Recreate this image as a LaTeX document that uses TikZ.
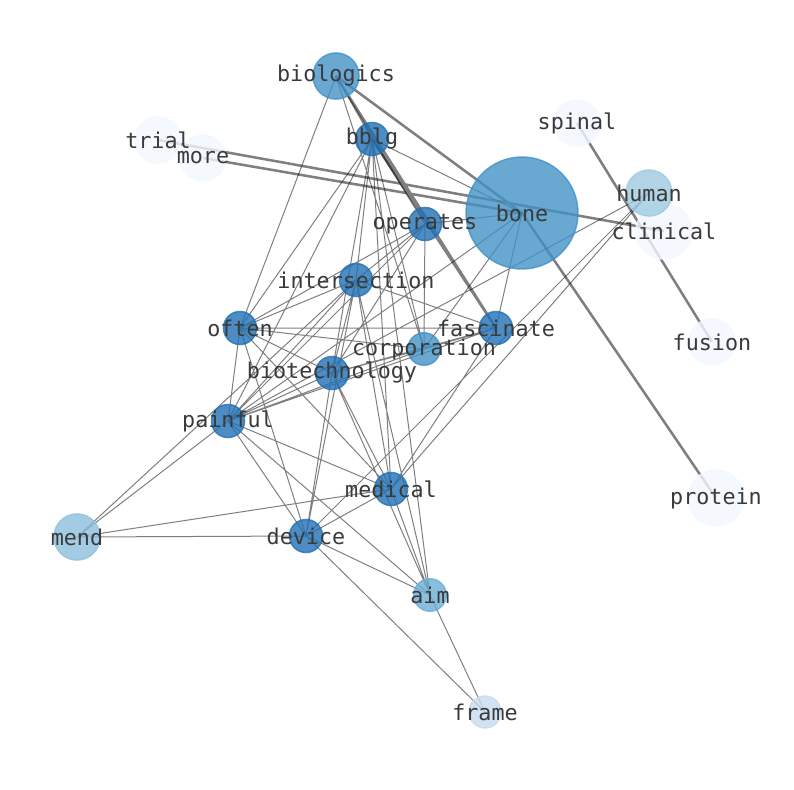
\documentclass[tikz,border=0pt]{standalone}
\usepackage{fontspec}
\setmonofont{DejaVu Sans Mono}
\usepackage{xcolor}
\definecolor{bluedark}{HTML}{2171B5}
\definecolor{bluemid}{HTML}{4292C6}
\definecolor{bluelight}{HTML}{6BAED6}
\definecolor{bluesoft}{HTML}{8CBFDD}
\definecolor{bluepale}{HTML}{9ECAE1}
\definecolor{bluefaint}{HTML}{C6DBEF}
\definecolor{bluewhite}{HTML}{F2F8FF}
\definecolor{labelgray}{HTML}{3A3A3A}

\tikzset{
  edge/.style={draw=black,draw opacity=0.5,line width=0.75pt},
  heavy/.style={draw=black,draw opacity=0.5,line width=1.9pt},
  blob/.style={fill opacity=0.8,draw opacity=0.8,line width=1.1pt},
  word/.style={text=labelgray,font=\ttfamily\fontsize{16.3}{18}\selectfont,inner sep=0pt}
}

\begin{document}
\begin{tikzpicture}[x=0.75pt,y=-0.75pt]
\useasboundingbox (0,0) rectangle (794,790);

\coordinate (biologics) at (336,76);
\coordinate (trial) at (158,140);
\coordinate (more) at (203,158);
\coordinate (bblg) at (372,139);
\coordinate (spinal) at (577,123);
\coordinate (bone) at (522,213);
\coordinate (human) at (649,193);
\coordinate (clinical) at (664,231);
\coordinate (operates) at (425,224);
\coordinate (intersection) at (356,280);
\coordinate (often) at (240,328);
\coordinate (fascinate) at (496,328);
\coordinate (corporation) at (424,349);
\coordinate (biotechnology) at (332,373);
\coordinate (painful) at (228,421);
\coordinate (fusion) at (712,342);
\coordinate (medical) at (391,489);
\coordinate (protein) at (716,498);
\coordinate (mend) at (77,537);
\coordinate (device) at (306,536);
\coordinate (aim) at (430,595);
\coordinate (frame) at (485,712);

\draw[edge] (biologics)--(often) (biologics)--(bblg)--(bone)--(operates)--(bblg)--(often)--(fascinate)
(biologics)--(corporation)--(bblg)--(painful)--(bone)--(corporation)--(operates)--(biologics)
(bblg)--(intersection)--(often)--(corporation)--(biotechnology)--(bblg)--(medical)--(often)--(device)
(bblg)--(aim)--(intersection)--(painful)--(operates)--(often)--(painful)--(corporation)
(bone)--(fascinate)--(painful)--(mend)--(intersection)--(biotechnology)--(operates)--(intersection)
(intersection)--(device)--(biotechnology)--(painful)--(medical)--(biotechnology)--(aim)--(painful)--(device)
(intersection)--(medical)--(fascinate)--(biotechnology)--(often) (intersection)--(fascinate)--(corporation)
(human)--(painful) (human)--(medical)--(mend)--(device)--(human)
(medical)--(device)--(aim)--(medical) (device)--(frame)--(aim);

\draw[heavy] (trial)--(clinical) (more)--(bone) (biologics)--(bone)--(protein)
(spinal)--(fusion) (biologics)--(fascinate)--(bblg);

\draw[blob,fill=bluewhite,draw=bluewhite] (trial) circle[radius=17.3pt];
\draw[blob,fill=bluewhite,draw=bluewhite] (more) circle[radius=17.3pt];
\draw[blob,fill=bluewhite,draw=bluewhite] (spinal) circle[radius=17.3pt];
\draw[blob,fill=bluewhite,draw=bluewhite] (clinical) circle[radius=21pt];
\draw[blob,fill=bluewhite,draw=bluewhite] (fusion) circle[radius=17.3pt];
\draw[blob,fill=bluewhite,draw=bluewhite] (protein) circle[radius=21pt];
\draw[blob,fill=bluefaint,draw=bluefaint] (frame) circle[radius=12pt];
\draw[blob,fill=bluemid,draw=bluemid] (bone) circle[radius=42pt];
\draw[blob,fill=bluemid,draw=bluemid] (biologics) circle[radius=17.3pt];
\draw[blob,fill=bluepale,draw=bluepale] (human) circle[radius=17.3pt];
\draw[blob,fill=bluesoft,draw=bluesoft] (mend) circle[radius=17.3pt];
\draw[blob,fill=bluelight,draw=bluelight] (aim) circle[radius=12.2pt];
\draw[blob,fill=bluemid,draw=bluemid] (corporation) circle[radius=12.2pt];
\draw[blob,fill=bluedark,draw=bluedark] (bblg) circle[radius=12.4pt];
\draw[blob,fill=bluedark,draw=bluedark] (operates) circle[radius=12.4pt];
\draw[blob,fill=bluedark,draw=bluedark] (intersection) circle[radius=12.4pt];
\draw[blob,fill=bluedark,draw=bluedark] (often) circle[radius=12.4pt];
\draw[blob,fill=bluedark,draw=bluedark] (fascinate) circle[radius=12.4pt];
\draw[blob,fill=bluedark,draw=bluedark] (biotechnology) circle[radius=12.4pt];
\draw[blob,fill=bluedark,draw=bluedark] (painful) circle[radius=12.4pt];
\draw[blob,fill=bluedark,draw=bluedark] (medical) circle[radius=12.4pt];
\draw[blob,fill=bluedark,draw=bluedark] (device) circle[radius=12.4pt];

\foreach \w in {biologics,trial,more,bblg,spinal,bone,human,clinical,operates,intersection,often,fascinate,corporation,biotechnology,painful,fusion,medical,protein,mend,device,aim,frame}
{
\node[word] (t-\w) at (\w) {\w};
}
\end{tikzpicture}
\end{document}
